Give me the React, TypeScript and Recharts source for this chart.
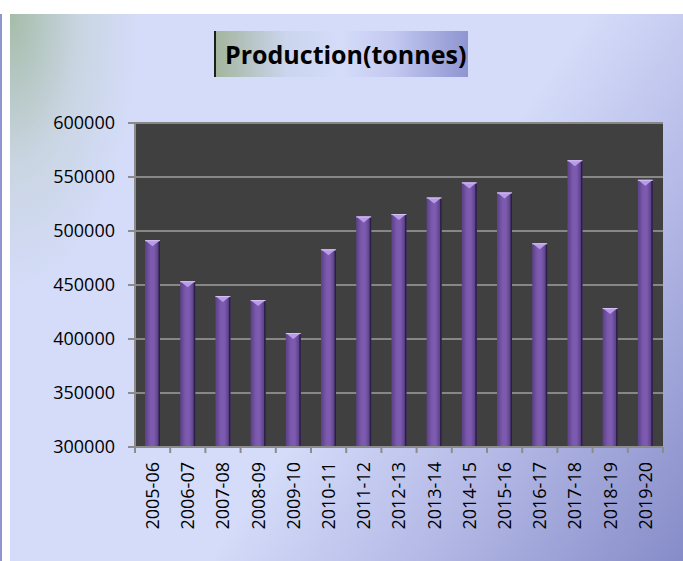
import { BarChart, Bar, XAxis, YAxis, CartesianGrid } from "recharts";

const seasons = [
  "2005-06", "2006-07", "2007-08", "2008-09", "2009-10",
  "2010-11", "2011-12", "2012-13", "2013-14", "2014-15",
  "2015-16", "2016-17", "2017-18", "2018-19", "2019-20",
];
const production = [
  491500, 453500, 439700, 436000, 405500,
  483000, 513500, 515700, 531000, 545000,
  535700, 488600, 565500, 428600, 547400,
];
const yTicks = [300000, 350000, 400000, 450000, 500000, 550000, 600000];

const data = seasons.map((s, i) => ({ season: s, value: production[i] }));

const W = 683;
const H = 561;
const PLOT_LEFT = 135;
const PLOT_RIGHT = 663;
const BAND = (PLOT_RIGHT - PLOT_LEFT) / seasons.length;
const AXIS_GRAY = "#8c8c8c";
const FONT = "'Open Sans', sans-serif";

// cylinder-ish purple bar with the light bevel cap
const BarShape = (props: any) => {
  const { x, y, width, height } = props;
  if (height <= 0) return null;
  return (
    <g>
      <rect x={x} y={y} width={width} height={height} fill="url(#barBody)" />
      <rect x={x + width - 1.5} y={y} width={1.5} height={height} fill="#2c1f45" />
      <polygon
        points={`${x},${y} ${x + width},${y} ${x + width / 2},${y + 6}`}
        fill="#b99ce8"
      />
      <line x1={x} x2={x + width} y1={y + 0.5} y2={y + 0.5} stroke="#d6c4f5" strokeWidth={1} />
    </g>
  );
};

const XTick = (props: any) => {
  const { x, y, payload, index } = props;
  const half = BAND / 2;
  return (
    <g>
      <line x1={x - half} x2={x - half} y1={y} y2={y + 6} stroke={AXIS_GRAY} strokeWidth={2} />
      {index === seasons.length - 1 && (
        <line x1={x + half} x2={x + half} y1={y} y2={y + 6} stroke={AXIS_GRAY} strokeWidth={2} />
      )}
      <text
        transform={`translate(${x},${y + 15}) rotate(-90)`}
        textAnchor="end"
        dy="0.36em"
        fontFamily={FONT}
        fontSize={18}
        fill="#000"
      >
        {payload.value}
      </text>
    </g>
  );
};

export default function App() {
  return (
    <div
      style={{
        position: "fixed",
        left: 0,
        top: 0,
        width: W,
        height: H,
        background: "#fff",
        overflow: "hidden",
      }}
    >
      <div style={{ position: "absolute", left: 0, top: 14, width: 2, height: H - 14, background: "#8e95cf" }} />
      <div
        style={{
          position: "absolute",
          left: 10,
          top: 14,
          right: 0,
          bottom: 0,
          background:
            "radial-gradient(ellipse 130px 280px at 0% 0%, rgba(160,185,160,0.9), rgba(190,205,200,0.45) 55%, rgba(212,220,249,0) 100%), linear-gradient(125deg, #d4dcf9 0%, #d4dcf9 55%, #b4b9e6 75%, #868cc8 100%)",
        }}
      />
      <div
        style={{
          position: "absolute",
          left: 214,
          top: 31,
          width: 254,
          height: 46,
          borderLeft: "2px solid #1e1e1e",
          background: "linear-gradient(to right, #a4b59e 0%, #cbd5ee 28%, #d4dcf9 50%, #c3c9f0 70%, #8e95d1 100%)",
          fontFamily: FONT,
          fontWeight: 700,
          fontSize: 25,
          lineHeight: "46px",
          paddingLeft: 9,
          boxSizing: "border-box",
          color: "#000",
          whiteSpace: "nowrap",
        }}
      >
        Production(tonnes)
      </div>
      <div style={{ position: "absolute", left: 0, top: 0 }}>
        <BarChart
          width={W}
          height={H}
          data={data}
          margin={{ top: 123, right: W - PLOT_RIGHT, bottom: 0, left: 10 }}
          barCategoryGap={0}
        >
          <defs>
            <linearGradient id="barBody" x1="0" y1="0" x2="1" y2="0">
              <stop offset="0%" stopColor="#5a4088" />
              <stop offset="35%" stopColor="#7b59ad" />
              <stop offset="60%" stopColor="#7d5bb0" />
              <stop offset="100%" stopColor="#4e3777" />
            </linearGradient>
          </defs>
          <CartesianGrid
            vertical={false}
            fill="#404040"
            fillOpacity={1}
            stroke="#878787"
            strokeWidth={2}
          />
          <XAxis
            dataKey="season"
            height={114}
            tickLine={false}
            tickSize={0}
            tickMargin={0}
            axisLine={{ stroke: AXIS_GRAY, strokeWidth: 2 }}
            tick={<XTick />}
            interval={0}
          />
          <YAxis
            width={125}
            domain={[300000, 600000]}
            ticks={yTicks}
            interval={0}
            tickSize={7}
            tickMargin={13}
            tickLine={{ stroke: AXIS_GRAY, strokeWidth: 2 }}
            axisLine={{ stroke: AXIS_GRAY, strokeWidth: 2 }}
            tick={{ fontFamily: FONT, fontSize: 18, fill: "#000" }}
          />
          <Bar dataKey="value" barSize={15} shape={<BarShape />} isAnimationActive={false} />
        </BarChart>
      </div>
    </div>
  );
}
